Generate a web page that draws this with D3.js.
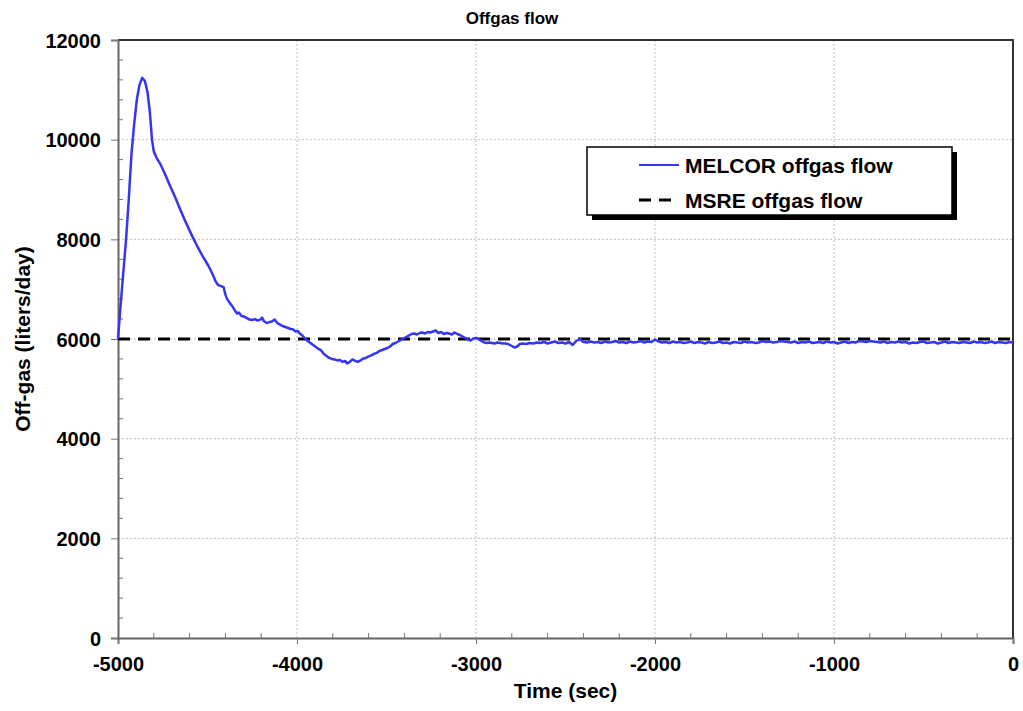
<!DOCTYPE html>
<html>
<head>
<meta charset="utf-8">
<script src="https://cdn.jsdelivr.net/npm/d3@7"></script>
<style>
  html, body { margin: 0; padding: 0; background: #fff; }
  svg { display: block; font-family: "Liberation Sans", Arial, sans-serif; }
</style>
</head>
<body>
<svg id="chart" width="1023" height="711"></svg>
<script>
// Simulated offgas flow (MELCOR) vs. time before reference point
const timeSec = [
  -5000, -4985, -4970, -4955, -4940, -4925, -4910, -4895, -4880, -4865,
  -4850, -4835, -4822, -4810, -4800, -4785, -4765, -4740, -4710, -4680,
  -4650, -4620, -4590, -4560, -4530, -4510, -4495, -4485, -4470, -4455,
  -4440, -4425, -4410, -4400, -4390, -4375, -4360, -4345, -4335, -4325,
  -4310, -4295, -4280, -4265, -4250, -4235, -4220, -4205, -4195, -4185,
  -4170, -4155, -4140, -4125, -4110, -4095, -4080, -4065, -4050, -4035,
  -4020, -4010, -3995, -3985, -3970, -3955, -3940, -3925, -3910, -3895,
  -3880, -3865, -3850, -3835, -3820, -3805, -3790, -3775, -3760, -3745,
  -3730, -3720, -3705, -3690, -3675, -3660, -3645, -3630, -3615, -3600,
  -3585, -3570, -3555, -3540, -3525, -3510, -3495, -3480, -3465, -3450,
  -3435, -3420, -3405, -3390, -3375, -3360, -3345, -3330, -3315, -3300,
  -3285, -3270, -3255, -3240, -3225, -3210, -3195, -3180, -3165, -3150,
  -3135, -3120, -3105, -3090, -3075, -3060, -3045, -3030, -3015, -3000,
  -2985, -2970, -2955, -2940, -2925, -2910, -2895, -2880, -2865, -2850,
  -2835, -2820, -2800, -2785, -2770, -2755, -2740, -2720, -2700, -2680,
  -2660, -2640, -2620, -2600, -2580, -2560, -2540, -2520, -2500, -2480,
  -2460, -2440, -2420, -2400, -2380, -2360, -2340, -2320, -2300, -2280,
  -2260, -2240, -2220, -2200, -2180, -2160, -2140, -2120, -2100, -2080,
  -2060, -2040, -2020, -2000, -1980, -1960, -1940, -1920, -1900, -1880,
  -1860, -1840, -1820, -1800, -1780, -1760, -1740, -1720, -1700, -1680,
  -1660, -1640, -1620, -1600, -1580, -1560, -1540, -1520, -1500, -1480,
  -1460, -1440, -1420, -1400, -1380, -1360, -1340, -1320, -1300, -1280,
  -1260, -1240, -1220, -1200, -1180, -1160, -1140, -1120, -1100, -1080,
  -1060, -1040, -1020, -1000, -980, -960, -940, -920, -900, -880,
  -860, -840, -820, -800, -780, -760, -740, -720, -700, -680,
  -660, -640, -620, -600, -580, -560, -540, -520, -500, -480,
  -460, -440, -420, -400, -380, -360, -340, -320, -300, -280,
  -260, -240, -220, -200, -180, -160, -140, -120, -100, -80,
  -60, -40, -20, 0
];
const melcorFlow = [
  6000, 6700, 7350, 8000, 8800, 9700, 10300, 10800, 11100, 11240,
  11180, 10950, 10550, 10000, 9760, 9640, 9520, 9330, 9080, 8840,
  8580, 8330, 8100, 7880, 7680, 7560, 7470, 7400, 7290, 7160,
  7080, 7060, 7040, 6890, 6800, 6720, 6650, 6560, 6510, 6530,
  6460, 6450, 6420, 6390, 6380, 6400, 6370, 6390, 6430, 6360,
  6320, 6340, 6350, 6390, 6320, 6290, 6260, 6240, 6220, 6200,
  6190, 6150, 6160, 6110, 6070, 6010, 5960, 5920, 5880, 5840,
  5800, 5770, 5700, 5660, 5620, 5600, 5590, 5570, 5580, 5540,
  5560, 5510, 5540, 5590, 5560, 5540, 5570, 5610, 5620, 5650,
  5670, 5700, 5720, 5760, 5780, 5800, 5820, 5850, 5900, 5920,
  5950, 5980, 6010, 6040, 6070, 6100, 6110, 6090, 6120, 6130,
  6110, 6140, 6130, 6150, 6170, 6120, 6140, 6100, 6120, 6110,
  6090, 6130, 6100, 6080, 6050, 6020, 5990, 5970, 6010, 6020,
  6000, 5960, 5930, 5920, 5930, 5920, 5910, 5930, 5920, 5910,
  5910, 5900, 5860, 5830, 5850, 5900, 5910, 5900, 5920, 5910,
  5930, 5920, 5940, 5910, 5930, 5950, 5920, 5930, 5910, 5940,
  5880, 5960, 6000, 5940, 5930, 5950, 5930, 5940, 5920, 5950,
  5930, 5940, 5960, 5930, 5940, 5920, 5950, 5930, 5940, 5960,
  5930, 5950, 5940, 5990, 5950, 5930, 5940, 5920, 5950, 5930,
  5940, 5920, 5930, 5950, 5920, 5940, 5930, 5910, 5940, 5920,
  5930, 5950, 5920, 5930, 5910, 5940, 5930, 5920, 5950, 5930,
  5940, 5920, 5930, 5960, 5940, 5950, 5930, 5940, 5960, 5950,
  5940, 5930, 5950, 5920, 5940, 5930, 5950, 5920, 5930, 5940,
  5920, 5950, 5930, 5940, 5910, 5930, 5950, 5920, 5940, 5930,
  5960, 5950, 5940, 5960, 5950, 5940, 5930, 5950, 5920, 5940,
  5930, 5950, 5930, 5940, 5910, 5930, 5920, 5940, 5950, 5920,
  5930, 5940, 5910, 5930, 5950, 5920, 5940, 5930, 5920, 5940,
  5930, 5920, 5950, 5930, 5940, 5920, 5930, 5950, 5920, 5940,
  5930, 5920, 5940, 5930
];
// Measured MSRE offgas flow (constant)
const msreTime = [-5000, 0];
const msreFlow = [6000, 6000];

const xTicks = [-5000, -4000, -3000, -2000, -1000, 0];
const yTicks = [0, 2000, 4000, 6000, 8000, 10000, 12000];

const titleText = "Offgas flow";
const xTitle = "Time (sec)";
const yTitle = "Off-gas (liters/day)";
const seriesNames = ["MELCOR offgas flow", "MSRE offgas flow"];

const svg = d3.select("#chart");
const plot = { left: 118, right: 1013, top: 40, bottom: 638 };

const x = d3.scaleLinear().domain([-5000, 0]).range([plot.left, plot.right]);
const y = d3.scaleLinear().domain([0, 12000]).range([plot.bottom, plot.top]);

// Gridlines
const grid = svg.append("g").attr("stroke", "#bdbdbd").attr("stroke-width", 1)
  .attr("stroke-dasharray", "2,2");
grid.selectAll("line.gx").data(xTicks.slice(1, -1)).join("line")
  .attr("x1", d => x(d)).attr("x2", d => x(d))
  .attr("y1", plot.top).attr("y2", plot.bottom);
grid.selectAll("line.gy").data(yTicks.slice(1, -1)).join("line")
  .attr("x1", plot.left).attr("x2", plot.right)
  .attr("y1", d => y(d)).attr("y2", d => y(d));

// Minor ticks (inward)
const minorX = d3.range(-5000, 1, 200).filter(v => v % 1000 !== 0);
const minorY = d3.range(0, 12001, 400).filter(v => v % 2000 !== 0);
const minor = svg.append("g").attr("stroke", "#777").attr("stroke-width", 1);
minor.selectAll("line.mx").data(minorX).join("line")
  .attr("x1", d => x(d)).attr("x2", d => x(d))
  .attr("y1", plot.bottom).attr("y2", plot.bottom - 5);
minor.selectAll("line.my").data(minorY).join("line")
  .attr("x1", plot.left).attr("x2", plot.left + 5)
  .attr("y1", d => y(d)).attr("y2", d => y(d));

// Frame: top and right border
svg.append("path")
  .attr("d", `M${plot.left},${plot.top}H${plot.right}V${plot.bottom}`)
  .attr("fill", "none").attr("stroke", "#333").attr("stroke-width", 2);

// Axes (plain hyphen for negative labels)
const fmt = d => String(d);
const xAxis = d3.axisBottom(x).tickValues(xTicks).tickSize(6).tickPadding(8).tickFormat(fmt);
const yAxis = d3.axisLeft(y).tickValues(yTicks).tickSize(7).tickPadding(10).tickFormat(fmt);

const gx = svg.append("g").attr("transform", `translate(0,${plot.bottom})`).call(xAxis);
const gy = svg.append("g").attr("transform", `translate(${plot.left},0)`).call(yAxis);
[gx, gy].forEach(g => {
  g.select(".domain").attr("stroke", "#666").attr("stroke-width", 2);
  g.selectAll(".tick line").attr("stroke", "#777").attr("stroke-width", 1);
  g.selectAll(".tick text").attr("fill", "#000")
    .style("font-size", "20px").style("font-weight", "bold")
    .style("font-family", "'Liberation Sans', Arial, sans-serif");
});
gx.selectAll(".tick text").attr("dy", "0.95em");
gy.selectAll(".tick text").attr("dy", "0.36em");

// Series lines
const line = d3.line().x(d => x(d[0])).y(d => y(d[1]));
const melcorData = timeSec.map((t, i) => [t, melcorFlow[i]]);
const msreData = msreTime.map((t, i) => [t, msreFlow[i]]);

svg.append("path").datum(msreData)
  .attr("d", line).attr("fill", "none")
  .attr("stroke", "#000").attr("stroke-width", 3)
  .attr("stroke-dasharray", "12,8");

svg.append("path").datum(melcorData)
  .attr("d", line).attr("fill", "none")
  .attr("stroke", "#3535f5").attr("stroke-width", 2.5)
  .attr("stroke-linejoin", "round");

// Titles
svg.append("text").attr("x", 512).attr("y", 24).attr("text-anchor", "middle")
  .style("font-size", "17px").style("font-weight", "bold").text(titleText);
svg.append("text").attr("x", (plot.left + plot.right) / 2).attr("y", 698)
  .attr("text-anchor", "middle")
  .style("font-size", "21px").style("font-weight", "bold").text(xTitle);
svg.append("text").attr("transform", `translate(30,${(plot.top + plot.bottom) / 2}) rotate(-90)`)
  .attr("text-anchor", "middle")
  .style("font-size", "21px").style("font-weight", "bold").text(yTitle);

// Legend
const lg = svg.append("g").attr("transform", "translate(587,147)");
const lw = 365, lh = 68;
lg.append("rect").attr("x", 5).attr("y", 5).attr("width", lw).attr("height", lh).attr("fill", "#000");
lg.append("rect").attr("width", lw).attr("height", lh).attr("fill", "#fff")
  .attr("stroke", "#000").attr("stroke-width", 1.5);
const rows = [
  { name: seriesNames[0], color: "#3535f5", dash: null, width: 2 },
  { name: seriesNames[1], color: "#000", dash: "12,8", width: 3 }
];
rows.forEach((r, i) => {
  const cy = 18 + i * 35;
  lg.append("line").attr("x1", 52).attr("x2", 92).attr("y1", cy).attr("y2", cy)
    .attr("stroke", r.color).attr("stroke-width", r.width)
    .attr("stroke-dasharray", r.dash);
  lg.append("text").attr("x", 98).attr("y", cy).attr("dy", "0.36em")
    .style("font-size", "21px").style("font-weight", "bold").text(r.name);
});
</script>
</body>
</html>
